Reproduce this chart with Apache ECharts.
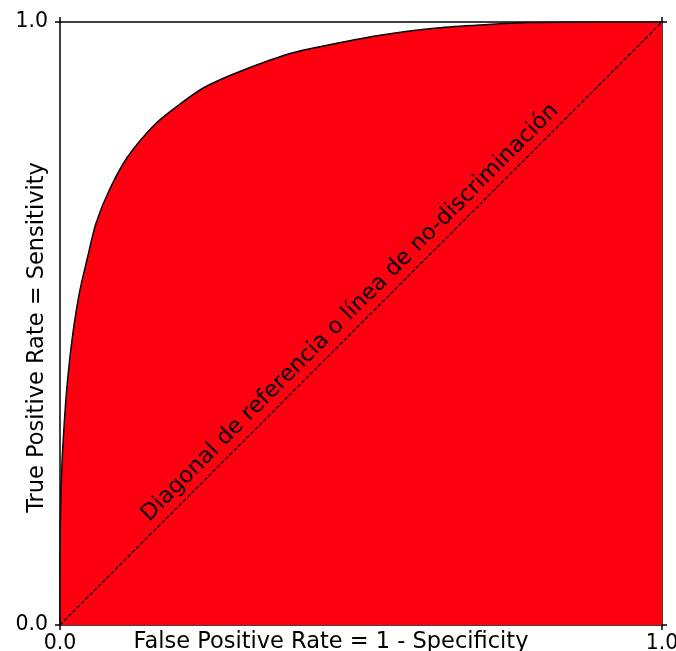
<!DOCTYPE html>
<html>
<head>
<meta charset="utf-8">
<script src="https://cdn.jsdelivr.net/npm/echarts@6/dist/echarts.min.js"></script>
<style>
  html, body { margin: 0; padding: 0; background: #fff; }
  #chart { width: 676px; height: 651px; }
</style>
</head>
<body>
<div id="chart"></div>
<script>
// ROC curve: false positive rate vs. true positive rate
const fpr = [0, 0.0001, 0.0005, 0.0017, 0.0038, 0.0071, 0.0111, 0.0166, 0.0238, 0.0332,
             0.0460, 0.0598, 0.0819, 0.1125, 0.1595, 0.2010, 0.2409, 0.304, 0.387, 0.487,
             0.560, 0.626, 0.698, 0.781, 0.897, 1];
const tpr = [0, 0.08, 0.1692, 0.2239, 0.2791, 0.3350, 0.3897, 0.4449, 0.5003, 0.5556,
             0.6108, 0.6662, 0.7214, 0.7766, 0.8320, 0.8652, 0.8922, 0.920, 0.949, 0.970,
             0.982, 0.990, 0.995, 0.999, 1, 1];

// reference / no-discrimination diagonal
const diagStart = [0, 0];
const diagEnd = [1, 1];

const tickValues = [0, 1];
const tickLabels = ['0.0', '1.0'];

const xTitle = 'False Positive Rate = 1 - Specificity';
const yTitle = 'True Positive Rate = Sensitivity';
const diagLabel = 'Diagonal de referencia o línea de no-discriminación';

const FONT = 'DejaVu Sans';
const RED = '#ff0011';

const curve = fpr.map((x, i) => [x, tpr[i]]);

function fmt(v) {
  const i = tickValues.indexOf(v);
  return i >= 0 ? tickLabels[i] : '';
}

const axisCommon = {
  type: 'value',
  min: tickValues[0],
  max: tickValues[tickValues.length - 1],
  interval: 1,
  splitLine: { show: false },
  axisLine: { show: true, onZero: false, lineStyle: { color: '#000', width: 1.5 } },
  axisTick: { show: true, inside: false, length: 5, lineStyle: { color: '#000', width: 1.5 } }
};

const chart = echarts.init(document.getElementById('chart'), null, { renderer: 'canvas' });

chart.setOption({
  animation: false,
  backgroundColor: '#fff',
  grid: { left: 60, right: 14, top: 22, bottom: 26, containLabel: false, outerBoundsMode: 'none' },
  xAxis: [
    Object.assign({}, axisCommon, {
      position: 'bottom',
      name: xTitle,
      nameLocation: 'middle',
      nameGap: 6,
      nameMoveOverlap: false,
      nameTextStyle: { fontFamily: FONT, fontSize: 22.5, color: '#000', padding: [0, 60, 0, 0], verticalAlign: 'top' },
      axisLabel: { fontFamily: FONT, fontSize: 20.5, color: '#000', margin: 8, formatter: fmt }
    }),
    Object.assign({}, axisCommon, {
      position: 'top',
      axisLabel: { show: false }
    })
  ],
  yAxis: [
    Object.assign({}, axisCommon, {
      position: 'left',
      name: yTitle,
      nameLocation: 'middle',
      nameGap: 11,
      nameMoveOverlap: false,
      nameTextStyle: { fontFamily: FONT, fontSize: 22.5, color: '#000', padding: [0, 28, 0, 0] },
      axisLabel: { fontFamily: FONT, fontSize: 20.5, color: '#000', margin: 12, formatter: fmt }
    }),
    Object.assign({}, axisCommon, {
      position: 'right',
      axisLabel: { show: false }
    })
  ],
  series: [
    {
      name: 'ROC',
      type: 'line',
      xAxisIndex: 0,
      yAxisIndex: 0,
      data: curve,
      showSymbol: false,
      smooth: 0.25,
      lineStyle: { color: '#000', width: 1.5 },
      areaStyle: { color: RED, opacity: 1, origin: 'start' },
      z: 2,
      markLine: {
        silent: true,
        symbol: ['none', 'none'],
        lineStyle: { color: '#000', width: 1.3, type: [4, 2] },
        label: {
          show: true,
          position: 'insideMiddleTop',
          distance: 4,
          formatter: diagLabel,
          fontFamily: FONT,
          fontSize: 22.5,
          color: '#000'
        },
        data: [[{ coord: diagStart }, { coord: diagEnd }]]
      }
    }
  ]
});
</script>
</body>
</html>
